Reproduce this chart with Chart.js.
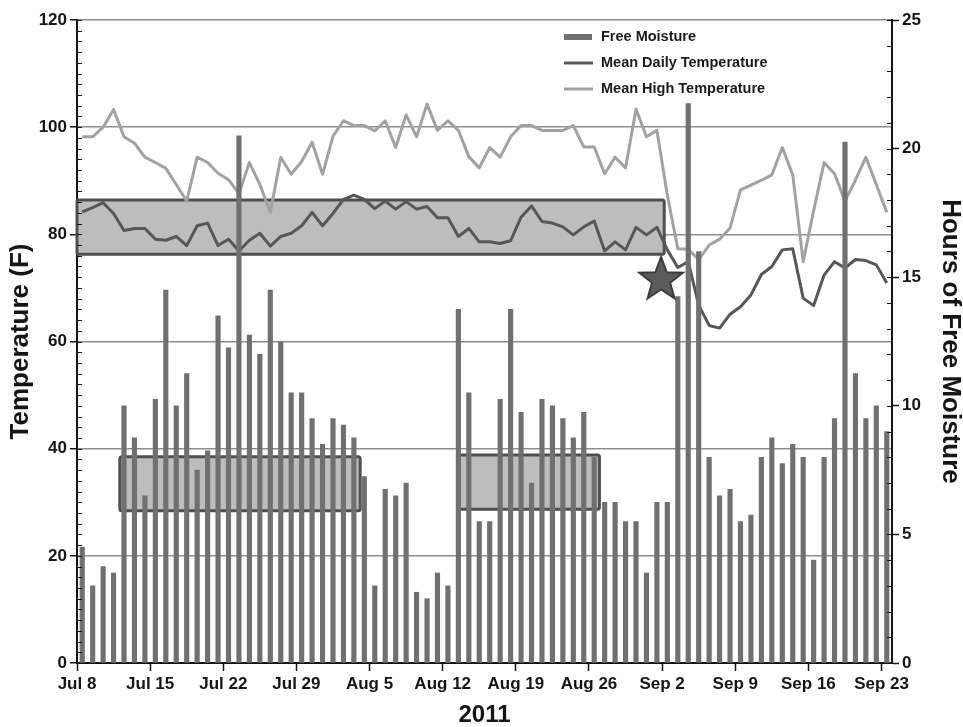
<!DOCTYPE html>
<html>
<head>
<meta charset="utf-8">
<title>Free moisture and temperature, 2011</title>
<script src="https://cdn.jsdelivr.net/npm/chart.js@4.4.1/dist/chart.umd.min.js"></script>
<style>
  html, body { margin: 0; padding: 0; background: #ffffff; }
  #wrap { width: 963px; height: 727px; }
</style>
</head>
<body>
<div id="wrap"><canvas id="chart" width="963" height="727"></canvas></div>
<script>
// Daily series, Jul 8 – Sep 23, 2011 (one value per day)
const freeMoistureHours = [
  4.5, 3.0, 3.75, 3.5, 10, 8.75, 6.5, 10.25, 14.5, 10,
  11.25, 7.5, 8.25, 13.5, 12.25, 20.5, 12.75, 12, 14.5, 12.5,
  10.5, 10.5, 9.5, 8.5, 9.5, 9.25, 8.75, 7.25, 3, 6.75,
  6.5, 7, 2.75, 2.5, 3.5, 3, 13.75, 10.5, 5.5, 5.5,
  10.25, 13.75, 9.75, 7, 10.25, 10, 9.5, 8.75, 9.75, 8,
  6.25, 6.25, 5.5, 5.5, 3.5, 6.25, 6.25, 14.25, 21.75, 16,
  8, 6.5, 6.75, 5.5, 5.75, 8, 8.75, 7.75, 8.5, 8,
  4, 8, 9.5, 20.25, 11.25, 9.5, 10, 9
];
const meanDailyTemp = [
  84.2, 85.0, 85.9, 83.9, 80.7, 81.1, 81.1, 79.1, 78.9, 79.6,
  77.9, 81.6, 82.1, 77.9, 79.1, 76.9, 78.9, 80.2, 77.8, 79.6,
  80.2, 81.6, 84.1, 81.6, 83.9, 86.5, 87.3, 86.5, 84.8, 86.2,
  84.7, 86.1, 84.7, 85.2, 83.1, 83.1, 79.6, 81.1, 78.6, 78.6,
  78.3, 78.8, 83.2, 85.3, 82.4, 82.1, 81.4, 79.9, 81.4, 82.5,
  76.9, 78.6, 77.1, 81.3, 79.9, 81.3, 77.1, 73.8, 74.9, 66.8,
  63.0, 62.5, 65.1, 66.5, 68.7, 72.5, 74.0, 77.1, 77.3, 68.1,
  66.7, 72.4, 74.9, 73.7, 75.3, 75.1, 74.3, 70.9
];
const meanHighTemp = [
  98.2, 98.2, 100.0, 103.3, 98.2, 97.0, 94.4, 93.4, 92.3, 89.3,
  86.2, 94.4, 93.4, 91.4, 90.2, 87.6, 93.4, 89.3, 84.1, 94.4,
  91.2, 93.6, 97.2, 91.2, 98.3, 101.2, 100.3, 100.3, 99.3, 101.2,
  96.2, 102.3, 98.2, 104.3, 99.4, 101.2, 99.4, 94.5, 92.4, 96.2,
  94.4, 98.2, 100.3, 100.3, 99.4, 99.4, 99.4, 100.3, 96.3, 96.3,
  91.3, 94.4, 92.4, 103.4, 98.2, 99.4, 87.3, 77.3, 77.2, 75.3,
  78.0, 79.1, 81.2, 88.3, 89.2, 90.1, 91.1, 96.2, 91.1, 74.9,
  84.4, 93.4, 91.3, 86.2, 90.1, 94.4, 89.3, 84.1
];

// Weekly tick labels (every 7th day, starting Jul 8)
const xTickLabels = ['Jul 8', 'Jul 15', 'Jul 22', 'Jul 29', 'Aug 5', 'Aug 12',
                     'Aug 19', 'Aug 26', 'Sep 2', 'Sep 9', 'Sep 16', 'Sep 23'];
const tempTicks = [0, 20, 40, 60, 80, 100, 120];
const hourTicks = [0, 5, 10, 15, 20, 25];

// Shaded ranges: [first day, last day boundary, low temp, high temp]
const shadedRanges = [
  [0, 56.2, 76.3, 86.4],
  [4.1, 27.1, 28.4, 38.5],
  [36.5, 50.0, 28.7, 38.8]
];
// Marked event: [day position, temperature]
const eventMarker = [55.9, 71.5];

const BAR = '#707070', DAILY = '#575757', HIGH = '#a2a2a2', GRID = '#8e8e8e', AXIS = '#151515';
const FONT = "'Liberation Sans', Arial, sans-serif";

const toPoints = arr => arr.map((v, i) => ({ x: i + 0.5, y: v }));

function roundRectPath(ctx, x, y, w, h, r) {
  ctx.beginPath();
  ctx.moveTo(x + r, y);
  ctx.lineTo(x + w - r, y);
  ctx.quadraticCurveTo(x + w, y, x + w, y + r);
  ctx.lineTo(x + w, y + h - r);
  ctx.quadraticCurveTo(x + w, y + h, x + w - r, y + h);
  ctx.lineTo(x + r, y + h);
  ctx.quadraticCurveTo(x, y + h, x, y + h - r);
  ctx.lineTo(x, y + r);
  ctx.quadraticCurveTo(x, y, x + r, y);
  ctx.closePath();
}

const decorations = {
  id: 'decorations',
  beforeDatasetsDraw(chart) {
    const { ctx, scales: { x, y } } = chart;
    ctx.save();
    shadedRanges.forEach(([d0, d1, t0, t1]) => {
      const left = x.getPixelForValue(d0), right = x.getPixelForValue(d1);
      const top = y.getPixelForValue(t1), bottom = y.getPixelForValue(t0);
      roundRectPath(ctx, left, top, right - left, bottom - top, 2);
      ctx.fillStyle = '#bdbdbd';
      ctx.fill();
      ctx.lineWidth = 3;
      ctx.strokeStyle = '#4f4f4f';
      ctx.stroke();
    });
    ctx.restore();
  },
  afterDatasetsDraw(chart) {
    const { ctx, chartArea, scales: { x, y, y2 } } = chart;
    ctx.save();
    // event star
    const cx = x.getPixelForValue(eventMarker[0]);
    const cy = y.getPixelForValue(eventMarker[1]);
    const R = 23, r = 9.5;
    ctx.beginPath();
    for (let k = 0; k < 10; k++) {
      const ang = -Math.PI / 2 + k * Math.PI / 5;
      const rad = k % 2 === 0 ? R : r;
      const px = cx + rad * Math.cos(ang), py = cy + rad * Math.sin(ang);
      if (k === 0) ctx.moveTo(px, py); else ctx.lineTo(px, py);
    }
    ctx.closePath();
    ctx.fillStyle = '#5b5b5b';
    ctx.fill();
    ctx.lineWidth = 2;
    ctx.strokeStyle = '#3d3d3d';
    ctx.stroke();

    // inner minor ticks
    ctx.strokeStyle = AXIS;
    ctx.lineWidth = 1;
    for (let v = 0; v <= 120; v += 2) {
      const py = Math.round(y.getPixelForValue(v)) + 0.5;
      ctx.beginPath();
      ctx.moveTo(chartArea.left, py);
      ctx.lineTo(chartArea.left + 5, py);
      ctx.stroke();
    }
    for (let h = 0; h <= 25; h += 1) {
      const py = Math.round(y2.getPixelForValue(h)) + 0.5;
      ctx.beginPath();
      ctx.moveTo(chartArea.right - 5, py);
      ctx.lineTo(chartArea.right, py);
      ctx.stroke();
    }
    ctx.restore();
  },
  afterDraw(chart) {
    const { ctx } = chart;
    const ds = chart.data.datasets;
    ctx.save();
    ctx.font = `bold 14.5px ${FONT}`;
    ctx.textBaseline = 'middle';
    const sx = 564, tx = 601, rows = [37, 63, 89];
    ds.forEach((d, k) => {
      const yy = rows[k];
      if (d.type === 'bar') {
        ctx.fillStyle = d.backgroundColor;
        ctx.fillRect(sx, yy - 3, 28, 6);
      } else {
        ctx.strokeStyle = d.borderColor;
        ctx.lineWidth = 3;
        ctx.beginPath();
        ctx.moveTo(sx, yy);
        ctx.lineTo(sx + 29, yy);
        ctx.stroke();
      }
      ctx.fillStyle = '#1a1a1a';
      ctx.fillText(d.label, tx, yy);
    });
    ctx.restore();
  }
};

new Chart(document.getElementById('chart'), {
  data: {
    datasets: [
      {
        type: 'bar', label: 'Free Moisture', data: toPoints(freeMoistureHours),
        yAxisID: 'y2', backgroundColor: BAR, barThickness: 4.5, order: 0
      },
      {
        type: 'line', label: 'Mean Daily Temperature', data: toPoints(meanDailyTemp),
        yAxisID: 'y', borderColor: DAILY, borderWidth: 3, pointRadius: 0,
        tension: 0, borderJoinStyle: 'round', order: 1
      },
      {
        type: 'line', label: 'Mean High Temperature', data: toPoints(meanHighTemp),
        yAxisID: 'y', borderColor: HIGH, borderWidth: 3, pointRadius: 0,
        tension: 0, borderJoinStyle: 'round', order: 2
      }
    ]
  },
  options: {
    responsive: false,
    animation: false,
    devicePixelRatio: 1,
    layout: { padding: { top: 20, left: 0, right: 0, bottom: 0 } },
    plugins: { legend: { display: false }, tooltip: { enabled: false } },
    scales: {
      x: {
        type: 'linear', position: 'bottom', min: 0, max: 78, offset: false,
        afterBuildTicks: s => { s.ticks = xTickLabels.map((_, k) => ({ value: k * 7 })); },
        afterFit: s => { s.height = 64; },
        ticks: {
          autoSkip: false, maxRotation: 0, padding: 3, color: AXIS,
          font: { family: FONT, size: 17, weight: 'bold' },
          callback: (v, i) => xTickLabels[i]
        },
        grid: { offset: false, drawOnChartArea: false, tickLength: 8, tickColor: AXIS, tickWidth: 1.5 },
        border: { color: AXIS, width: 2 },
        title: {
          display: true, text: '2011', color: AXIS,
          font: { family: FONT, size: 24, weight: 'bold', lineHeight: 1 },
          padding: { top: 0, bottom: 0 }
        }
      },
      y: {
        type: 'linear', position: 'left', min: 0, max: 120,
        afterBuildTicks: s => { s.ticks = tempTicks.map(v => ({ value: v })); },
        afterFit: s => { s.width = 77; },
        ticks: { padding: 3, color: AXIS, font: { family: FONT, size: 17, weight: 'bold' } },
        grid: {
          color: c => (c.tick && c.tick.value === 0 ? 'rgba(0,0,0,0)' : GRID),
          lineWidth: 1.5, tickLength: 7, tickColor: AXIS, tickWidth: 1.5
        },
        border: { color: AXIS, width: 2 },
        title: {
          display: true, text: 'Temperature (F)', color: AXIS,
          font: { family: FONT, size: 26, weight: 'bold', lineHeight: 1.2 },
          padding: { top: 5, bottom: 0 }
        }
      },
      y2: {
        type: 'linear', position: 'right', min: 0, max: 25,
        afterBuildTicks: s => { s.ticks = hourTicks.map(v => ({ value: v })); },
        afterFit: s => { s.width = 71; },
        ticks: { padding: 3, color: AXIS, font: { family: FONT, size: 17, weight: 'bold' } },
        grid: { drawOnChartArea: false, tickLength: 7, tickColor: AXIS, tickWidth: 1.5 },
        border: { color: AXIS, width: 2 },
        title: {
          display: true, text: 'Hours of Free Moisture', color: AXIS,
          font: { family: FONT, size: 26, weight: 'bold', lineHeight: 1 },
          padding: { top: 0, bottom: 0 }
        }
      }
    }
  },
  plugins: [decorations]
});
</script>
</body>
</html>
